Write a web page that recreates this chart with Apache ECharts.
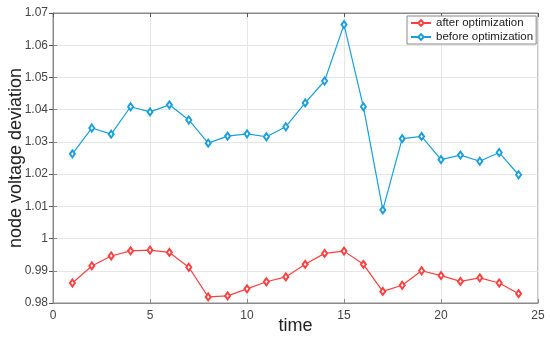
<!DOCTYPE html>
<html><head><meta charset="utf-8">
<script src="https://cdn.jsdelivr.net/npm/echarts@6/dist/echarts.min.js"></script>
<style>html,body{margin:0;padding:0;background:#fff}#c{width:550px;height:340px}</style>
</head><body><div id="c"></div>
<script>
const times = [1,2,3,4,5,6,7,8,9,10,11,12,13,14,15,16,17,18,19,20,21,22,23,24];
const afterOpt = [0.9862,0.9915,0.9946,0.9962,0.9964,0.9957,0.9911,0.9819,0.9822,0.9844,0.9866,0.9881,0.9920,0.9954,0.9961,0.9920,0.9836,0.9855,0.9900,0.9885,0.9867,0.9878,0.9862,0.9829];
const beforeOpt = [1.0263,1.0343,1.0324,1.0409,1.0393,1.0415,1.0368,1.0296,1.0318,1.0325,1.0316,1.0347,1.0421,1.0489,1.0664,1.0409,1.0089,1.0310,1.0317,1.0245,1.0259,1.0240,1.0267,1.0198];
const seriesNames = ['after optimization','before optimization'];
const xTicks = {min:0, max:25, interval:5};
const yTicks = {min:0.98, max:1.07, interval:0.01};

const font = 'Liberation Sans, Arial, sans-serif';
const axisCol = '#8a8a8a';
const chart = echarts.init(document.getElementById('c'));
function fmtY(v){ const r = Math.round(v*100)/100; return r===1 ? '1' : String(r); }
chart.setOption({
  animation:false,
  backgroundColor:'#fff',
  grid:{left:53, right:12, top:13, bottom:37, outerBoundsMode:'none', containLabel:false,
        show:true, borderColor:axisCol, borderWidth:1},
  legend:{
    left:407, top:16, orient:'vertical', itemGap:2, itemWidth:20, itemHeight:7,
    padding:[1,3,1,3], borderColor:'#888', borderWidth:1, backgroundColor:'#fff',
    textStyle:{fontFamily:font, fontSize:11.5, color:'#222'},
    data:seriesNames
  },
  xAxis:[{
    type:'value', min:xTicks.min, max:xTicks.max, interval:xTicks.interval,
    name:'time', nameLocation:'middle', nameGap:14, nameMoveOverlap:false,
    nameTextStyle:{fontFamily:font, fontSize:18, color:'#222'},
    axisLine:{show:true, onZero:false, lineStyle:{color:axisCol}},
    axisTick:{show:true, inside:true, length:4, lineStyle:{color:axisCol}},
    axisLabel:{fontFamily:font, fontSize:12, color:'#444', margin:7},
    splitLine:{show:true, lineStyle:{color:'#e6e6e6'}}
  },{
    type:'value', position:'top', min:xTicks.min, max:xTicks.max, interval:xTicks.interval,
    axisLine:{show:true, lineStyle:{color:axisCol}},
    axisTick:{show:true, inside:true, length:4, lineStyle:{color:'#555'}},
    axisLabel:{show:false}, splitLine:{show:false}
  }],
  yAxis:[{
    type:'value', min:yTicks.min, max:yTicks.max, interval:yTicks.interval,
    name:'node voltage deviation', nameLocation:'middle', nameGap:28, nameRotate:90, nameMoveOverlap:false,
    nameTextStyle:{fontFamily:font, fontSize:18, color:'#222'},
    axisLine:{show:true, lineStyle:{color:axisCol}},
    axisTick:{show:true, inside:true, length:4, lineStyle:{color:axisCol}},
    axisLabel:{fontFamily:font, fontSize:12, color:'#444', margin:5, formatter:fmtY},
    splitLine:{show:true, lineStyle:{color:'#e6e6e6'}}
  },{
    type:'value', position:'right', min:yTicks.min, max:yTicks.max, interval:yTicks.interval,
    axisLine:{show:true, lineStyle:{color:axisCol}},
    axisTick:{show:true, inside:true, length:4, lineStyle:{color:'#555'}},
    axisLabel:{show:false}, splitLine:{show:false}
  }],
  series:[{
    name:seriesNames[0], type:'line', data:times.map((t,i)=>[t,afterOpt[i]]),
    symbol:'emptyDiamond', symbolSize:[5,7], showAllSymbol:true,
    lineStyle:{color:'#ff4040', width:1.2},
    itemStyle:{color:'#ff4040', borderWidth:1.2},
    emphasis:{disabled:true}
  },{
    name:seriesNames[1], type:'line', data:times.map((t,i)=>[t,beforeOpt[i]]),
    symbol:'emptyDiamond', symbolSize:[5,7], showAllSymbol:true,
    lineStyle:{color:'#1a9fdc', width:1.2},
    itemStyle:{color:'#1a9fdc', borderWidth:1.2},
    emphasis:{disabled:true}
  }]
});
</script></body></html>
